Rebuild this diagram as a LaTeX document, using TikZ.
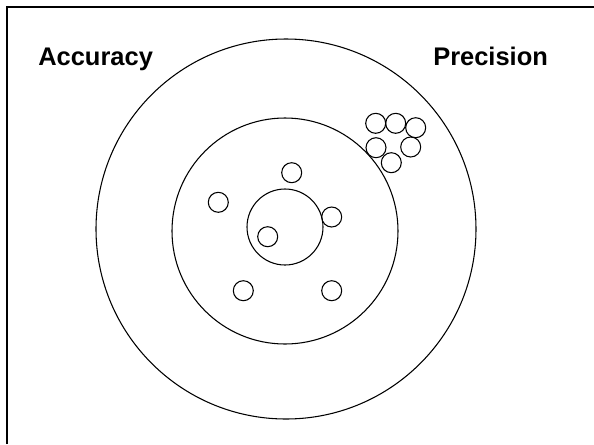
\documentclass[tikz,border=0pt]{standalone}
\usepackage{fontspec}
\setmainfont{Liberation Sans}
\begin{document}
\begin{tikzpicture}[x=0.75pt,y=-0.75pt,
  ring/.style={draw=black,line width=0.8pt},
  shot/.style={draw=black,line width=0.8pt},
  lbl/.style={font=\fontsize{19.1}{22}\selectfont\bfseries,inner sep=0pt,anchor=base west}]
\useasboundingbox (0,0) rectangle (594,444);
\draw[line width=1.6pt] (7,444) -- (7,7) -- (594,7);
\node[lbl] (acc) at (38,65.5) {Accuracy};
\node[lbl] (prec) at (433,65.5) {Precision};
\draw[ring] (286,229) circle[radius=190];
\draw[ring] (285,231) circle[radius=113];
\draw[ring] (285,227) circle[radius=38];
\foreach \p in {(291.7,172.7),(218.3,202.3),(331.7,217),(267.7,236.7),(243.3,290.7),(331.7,290.7),
  (375.7,123.3),(395.7,123.3),(415.7,127.7),(376,147.7),(410.7,147),(391.3,162.7)}
  \draw[shot] \p circle[radius=10];
\end{tikzpicture}
\end{document}
